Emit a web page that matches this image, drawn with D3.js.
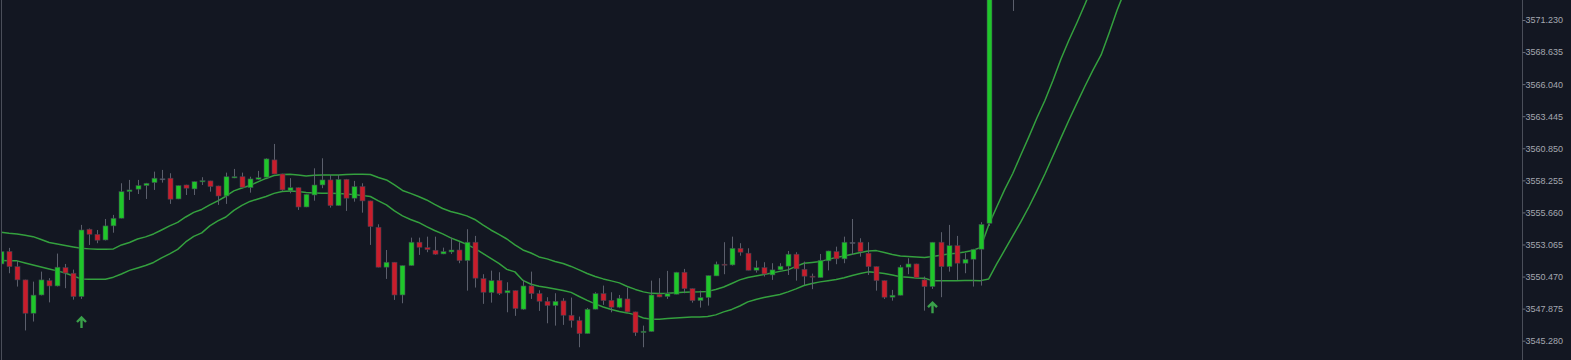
<!DOCTYPE html>
<html><head><meta charset="utf-8">
<script src="https://cdn.jsdelivr.net/npm/d3@7"></script>
<style>
html,body{margin:0;padding:0;background:#131722;overflow:hidden}
svg{display:block}
</style></head><body>
<svg id="chart" width="1571" height="360"></svg>
<script>
// ---- DATA (price values) ----
const open = [
3551.49,3552.50,3551.27,3550.20,3547.50,3548.98,3550.14,3549.71,3551.19,3550.74,
3548.85,3554.30,3553.89,3553.43,3554.57,3555.19,3557.34,3557.54,3557.83,3558.07,
3558.38,3558.43,3556.75,3557.88,3557.56,3558.13,3558.21,3557.80,3556.99,3558.45,
3558.55,3557.66,3558.34,3558.51,3559.91,3558.77,3557.40,3557.66,3556.10,3557.07,
3557.88,3558.29,3556.21,3558.34,3556.81,3557.75,3556.59,3554.46,3551.23,3551.63,
3548.98,3551.36,3553.25,3552.81,3552.60,3552.30,3552.46,3552.62,3551.76,3553.25,
3550.30,3549.17,3550.16,3549.15,3549.33,3547.83,3549.71,3549.09,3548.47,3548.12,
3548.50,3547.34,3546.91,3545.85,3547.83,3549.09,3548.55,3547.99,3548.66,3547.61,
3545.93,3546.02,3549.04,3548.85,3549.04,3550.82,3549.49,3548.52,3548.77,3550.52,
3551.47,3551.41,3552.76,3552.36,3550.98,3551.19,3550.60,3551.01,3551.31,3552.28,
3551.06,3550.50,3550.38,3551.74,3552.49,3551.90,3553.23,3553.25,3552.36,3551.27,
3550.14,3548.80,3548.96,3551.23,3551.49,3550.20,3549.66,3553.25,3551.27,3552.97,
3551.55,3551.87,3552.68,3554.78,3575.50,3578.00,3577.00];
const high = [
3552.71,3552.79,3551.73,3550.22,3550.06,3550.87,3550.34,3552.33,3551.49,3551.03,
3554.65,3554.36,3554.24,3555.13,3555.46,3558.02,3558.29,3558.29,3558.05,3558.96,
3559.10,3558.83,3557.84,3557.90,3558.17,3558.51,3558.22,3557.82,3558.88,3559.18,
3558.88,3558.55,3559.02,3560.04,3561.20,3558.79,3558.43,3557.68,3557.16,3559.23,
3560.04,3558.69,3558.69,3558.37,3558.21,3558.02,3556.61,3554.70,3552.62,3551.65,
3551.37,3553.62,3553.62,3553.70,3553.70,3552.81,3553.62,3553.25,3554.30,3553.76,
3550.66,3550.95,3550.82,3550.01,3549.35,3550.20,3550.87,3549.36,3548.80,3549.12,
3548.72,3548.77,3547.23,3547.93,3549.20,3549.74,3549.20,3548.98,3549.58,3547.63,
3546.50,3550.14,3550.34,3550.93,3550.85,3551.09,3549.51,3549.33,3550.56,3551.68,
3553.25,3553.70,3553.17,3552.76,3551.76,3551.63,3551.55,3551.55,3552.54,3552.44,
3551.68,3550.71,3552.30,3552.56,3552.89,3553.70,3555.13,3553.57,3553.25,3551.29,
3550.16,3549.39,3551.41,3551.95,3551.51,3550.47,3553.27,3554.06,3554.65,3553.76,
3552.36,3552.71,3554.87,3576.00,3578.50,3579.00,3580.00];
const low = [
3551.33,3550.74,3549.66,3546.11,3546.83,3548.94,3548.38,3549.67,3549.53,3548.60,
3548.66,3553.03,3553.17,3553.39,3554.02,3555.17,3556.67,3557.15,3556.75,3557.48,
3558.07,3556.35,3556.73,3557.07,3557.07,3557.88,3557.34,3556.27,3556.35,3558.43,
3557.62,3557.26,3558.29,3558.49,3558.75,3557.40,3557.21,3555.86,3556.08,3556.61,
3557.62,3556.05,3556.18,3555.78,3556.53,3555.64,3553.03,3551.21,3550.28,3548.58,
3548.31,3551.33,3552.22,3552.44,3552.22,3552.28,3552.30,3551.55,3549.33,3549.58,
3548.26,3548.36,3548.98,3547.58,3547.29,3547.77,3548.66,3547.69,3546.69,3546.50,
3546.56,3546.34,3544.75,3545.83,3547.81,3548.18,3547.58,3547.91,3547.58,3545.67,
3544.75,3545.99,3548.80,3548.66,3549.03,3549.12,3548.36,3547.96,3548.12,3550.51,
3550.66,3551.36,3552.16,3550.97,3550.79,3550.47,3550.20,3550.99,3550.60,3550.14,
3549.79,3549.45,3550.37,3550.97,3551.47,3551.55,3552.22,3552.08,3550.60,3549.33,
3548.66,3548.52,3548.94,3550.66,3550.36,3547.71,3549.47,3548.80,3550.87,3550.20,
3550.74,3549.66,3549.74,3554.57,3574.80,3576.50,3571.96];
const close = [
3552.49,3551.27,3550.20,3547.50,3548.97,3550.20,3549.71,3551.23,3550.76,3548.85,
3554.24,3553.89,3553.41,3554.57,3555.19,3557.34,3557.48,3557.83,3558.02,3558.43,
3558.38,3556.73,3557.83,3557.62,3558.15,3558.23,3557.75,3556.99,3558.55,3558.55,
3557.70,3558.37,3558.47,3559.99,3558.77,3557.48,3557.66,3556.10,3557.13,3557.88,
3558.29,3556.21,3558.34,3556.81,3557.75,3556.59,3554.51,3551.23,3551.63,3548.98,
3551.36,3553.25,3552.84,3552.65,3552.28,3552.49,3552.62,3551.76,3553.25,3550.34,
3549.20,3550.14,3549.11,3549.33,3547.88,3549.71,3549.09,3548.47,3548.12,3548.47,
3547.34,3546.91,3545.85,3547.83,3549.09,3548.52,3547.99,3548.72,3547.61,3545.93,
3546.05,3548.98,3548.82,3549.09,3550.82,3549.49,3548.52,3548.77,3550.55,3551.47,
3551.43,3552.76,3552.44,3550.98,3551.19,3550.68,3551.01,3551.31,3552.28,3551.09,
3550.50,3550.42,3551.79,3552.54,3551.90,3553.25,3553.23,3552.49,3551.27,3550.14,
3548.80,3548.96,3551.23,3551.49,3550.38,3549.66,3553.25,3551.27,3552.97,3551.55,
3551.87,3552.68,3554.70,3575.50,3578.00,3577.00,3579.00];
const maUpper = [
3554.06,3553.98,3553.92,3553.81,3553.70,3553.47,3553.23,3553.11,3552.99,3552.87,
3552.76,3552.71,3552.67,3552.67,3552.71,3553.03,3553.23,3553.51,3553.68,3553.92,
3554.24,3554.57,3554.85,3555.29,3555.66,3555.90,3556.27,3556.59,3556.97,3557.40,
3557.64,3557.84,3558.13,3558.41,3558.65,3558.73,3558.75,3558.69,3558.61,3558.67,
3558.69,3558.69,3558.69,3558.73,3558.75,3558.75,3558.73,3558.49,3558.29,3557.88,
3557.44,3557.20,3556.95,3556.67,3556.31,3555.98,3555.74,3555.58,3555.38,3555.09,
3554.65,3554.24,3553.88,3553.51,3553.03,3552.62,3552.38,3552.06,3551.90,3551.69,
3551.53,3551.29,3551.01,3550.72,3550.48,3550.28,3550.12,3549.96,3549.67,3549.43,
3549.23,3549.11,3549.09,3549.11,3549.16,3549.20,3549.23,3549.24,3549.27,3549.43,
3549.63,3549.91,3550.20,3550.40,3550.52,3550.64,3550.76,3550.89,3551.01,3551.29,
3551.55,3551.61,3551.68,3551.86,3552.02,3552.14,3552.28,3552.42,3552.54,3552.57,
3552.42,3552.26,3552.14,3552.10,3552.06,3552.02,3552.10,3552.20,3552.30,3552.36,
3552.46,3552.58,3552.83,3554.65,3556.10,3557.52,3558.81,3560.31,3561.77,3563.30,
3564.72,3566.34,3568.08,3569.61,3571.03,3572.53,3574.06,3575.60,3577.14,3578.67,3580.21];
const maLower = [
3551.76,3551.75,3551.74,3551.57,3551.41,3551.25,3551.09,3550.93,3550.76,3550.52,
3550.28,3550.25,3550.25,3550.25,3550.42,3550.68,3550.97,3551.17,3551.37,3551.61,
3551.98,3552.30,3552.67,3553.27,3553.72,3554.00,3554.57,3554.97,3555.29,3555.82,
3556.23,3556.55,3556.75,3556.95,3557.20,3557.36,3557.40,3557.36,3557.28,3557.24,
3557.21,3557.21,3557.20,3557.16,3557.10,3557.02,3556.95,3556.59,3556.27,3555.78,
3555.38,3555.09,3554.85,3554.51,3554.20,3553.92,3553.60,3553.35,3553.07,3552.75,
3552.34,3551.94,3551.53,3551.05,3550.85,3550.16,3549.85,3549.69,3549.59,3549.47,
3549.35,3549.19,3548.86,3548.54,3548.26,3548.01,3547.81,3547.65,3547.53,3547.37,
3547.12,3547.02,3547.02,3547.07,3547.11,3547.16,3547.19,3547.20,3547.23,3547.37,
3547.61,3547.81,3548.09,3548.42,3548.62,3548.78,3548.90,3549.02,3549.23,3549.47,
3549.75,3549.91,3550.04,3550.14,3550.24,3550.38,3550.56,3550.72,3550.85,3550.80,
3550.72,3550.60,3550.46,3550.42,3550.36,3550.34,3550.14,3550.14,3550.14,3550.14,
3550.16,3550.16,3550.14,3550.28,3551.49,3552.62,3553.76,3554.89,3556.10,3557.40,
3558.77,3560.23,3561.69,3563.14,3564.52,3565.89,3567.19,3568.40,3570.18,3572.04,3573.66];
const arrowIndex = [10, 116];
const arrowPrice = [3547.24, 3548.44];
const tickValues = [3545.280,3547.875,3550.470,3553.065,3555.660,3558.255,3560.850,3563.445,3566.040,3568.635,3571.230];

// ---- CHART ----
const W = 1571, H = 360;
const axisX = 1522.5;
const slots = 189;
const x = d3.scaleLinear().domain([0, slots]).range([1, 1 + slots * 8.03]);
const y = d3.scaleLinear().domain([3545.28, 3571.23]).range([340.7, 20]);

const svg = d3.select('#chart');
svg.append('rect').attr('width', W).attr('height', H).attr('fill', '#131722');
svg.append('defs').append('clipPath').attr('id', 'clip')
  .append('rect').attr('x', 1.5).attr('y', 0).attr('width', axisX - 1.5).attr('height', H);

const g = svg.append('g').attr('clip-path', 'url(#clip)');

const line = d3.line().x((d, i) => x(i)).y(d => y(d));
[maUpper, maLower].forEach(ma => {
  g.append('path').datum(ma).attr('d', line)
    .attr('fill', 'none').attr('stroke', '#34a03e').attr('stroke-width', 1.5)
    .attr('stroke-linejoin', 'round');
});

const candles = open.map((o, i) => ({i, o, h: high[i], l: low[i], c: close[i]}));
const colorOf = d => d.c > d.o ? '#1fc62a' : (d.c < d.o ? '#c91d2b' : '#8f929c');
const cg = g.append('g');
cg.selectAll('line.wick').data(candles).join('line').attr('class', 'wick')
  .attr('x1', d => Math.round(x(d.i)) + 0.5).attr('x2', d => Math.round(x(d.i)) + 0.5)
  .attr('y1', d => y(d.h)).attr('y2', d => y(d.l))
  .attr('stroke', '#5b5f6c').attr('stroke-width', 1);
cg.selectAll('rect.body').data(candles).join('rect').attr('class', 'body')
  .attr('x', d => Math.round(x(d.i)) - 2)
  .attr('width', 5)
  .attr('y', d => y(Math.max(d.o, d.c)))
  .attr('height', d => Math.max(1, Math.abs(y(d.o) - y(d.c))))
  .attr('fill', colorOf)
  .attr('stroke', '#3c4150').attr('stroke-width', 0.6);

// arrows
arrowIndex.forEach((ai, k) => {
  g.append('path')
    .attr('transform', `translate(${Math.round(x(ai)) + 0.5},${y(arrowPrice[k])})`)
    .attr('d', 'M0,11.5V1M-4.5,5.5L0,1L4.5,5.5')
    .attr('fill', 'none').attr('stroke', '#3aa04a').attr('stroke-width', 2.4)
    .attr('stroke-linejoin', 'miter');
});

// borders
svg.append('line').attr('x1', 1.5).attr('x2', 1.5).attr('y1', 0).attr('y2', H)
  .attr('stroke', '#4a4e59').attr('stroke-width', 1);
svg.append('line').attr('x1', axisX).attr('x2', axisX).attr('y1', 0).attr('y2', H)
  .attr('stroke', '#4a4e59').attr('stroke-width', 1);

// right price axis
const axis = d3.axisRight(y).tickValues(tickValues).tickFormat(d3.format('.3f'))
  .tickSize(3).tickSizeOuter(0).tickPadding(0);
const ag = svg.append('g').attr('transform', `translate(${axisX},0)`).call(axis);
ag.select('.domain').remove();
ag.selectAll('.tick line').attr('stroke', '#6a6e7a');
ag.selectAll('.tick text').attr('fill', '#a4a7b0')
  .attr('font-family', 'Liberation Sans, Arial, sans-serif').attr('font-size', 9);
</script>
</body></html>
